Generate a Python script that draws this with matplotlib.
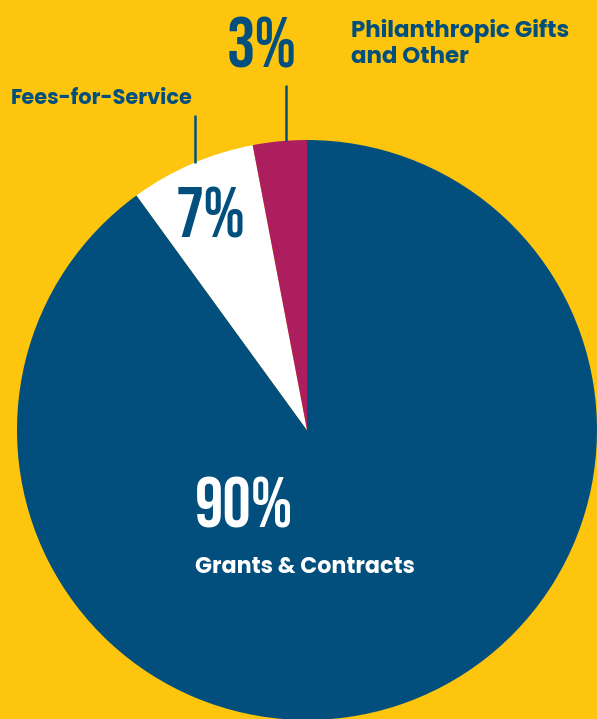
import matplotlib
matplotlib.use("Agg")
from matplotlib import pyplot as plt

W, H = 597, 719

# data
categories = ["Grants & Contracts", "Fees-for-Service", "Philanthropic Gifts\nand Other"]
shares = [90, 7, 3]
pct_labels = ["90%", "7%", "3%"]

YELLOW = "#FDC50E"
BLUE = "#024F7E"
MAGENTA = "#AD1E5F"
slice_colors = [BLUE, "white", MAGENTA]

fig = plt.figure(figsize=(W / 100, H / 100), dpi=100, facecolor=YELLOW)
ax = fig.add_axes([0, 0, 1, 1])
ax.set_facecolor(YELLOW)


def y(px):
    # image pixel row -> data y
    return H - px


ax.pie(shares, colors=slice_colors, startangle=90, counterclock=False,
       center=(307, y(430)), radius=290, frame=True,
       wedgeprops=dict(linewidth=0))
ax.set_xlim(0, W)
ax.set_ylim(0, H)
ax.set_aspect("equal")
ax.axis("off")

pct_font = dict(family=["Bebas Neue", "DejaVu Sans"])
lab_font = dict(family=["Poppins", "DejaVu Sans"], weight=700)

# big percentages
ax.text(195, y(528), pct_labels[0], color="white", fontsize=51, ha="left", va="baseline", **pct_font)
ax.text(176, y(238), pct_labels[1], color=BLUE, fontsize=51, ha="left", va="baseline", **pct_font)
ax.text(227, y(67), pct_labels[2], color=BLUE, fontsize=51, ha="left", va="baseline", **pct_font)

# category labels
ax.text(195, y(573), categories[0], color="white", fontsize=16, ha="left", va="baseline", **lab_font)
ax.text(11, y(104), categories[1], color=BLUE, fontsize=15, ha="left", va="baseline", **lab_font)
ax.text(351, y(63), categories[2], color=BLUE, fontsize=16.5, ha="left", va="baseline",
        linespacing=1.2, **lab_font)

# leader lines
ax.plot([195, 195], [y(115), y(163)], color=BLUE, lw=1.8, solid_capstyle="butt")
ax.plot([286, 286], [y(85), y(141)], color=BLUE, lw=1.8, solid_capstyle="butt")

fig.savefig("out.png", dpi=100, facecolor=YELLOW)
